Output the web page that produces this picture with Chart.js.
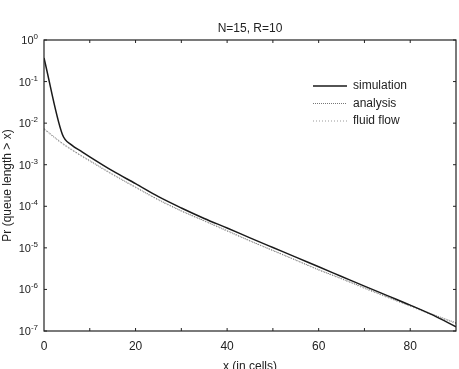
<!DOCTYPE html>
<html>
<head>
<meta charset="utf-8">
<script src="https://cdn.jsdelivr.net/npm/chart.js@4"></script>
<style>
  html, body { margin: 0; padding: 0; background: #fff; }
  #wrap { width: 459px; height: 369px; }
</style>
</head>
<body>
<div id="wrap"><canvas id="queueChart" width="459" height="369"></canvas></div>
<script>
// queue length tail probabilities
const xCells = [0, 4, 6, 8, 10, 15, 20, 25, 30, 35, 40, 45, 50, 55, 60, 65, 70, 75, 80, 85, 90];
const simulation = [3.7e-1, 5.4e-3, 3.0e-3, 2.15e-3, 1.55e-3, 7.1e-4, 3.5e-4, 1.7e-4, 9.1e-5, 5.1e-5, 3.0e-5, 1.74e-5, 1.02e-5, 6.0e-6, 3.5e-6, 2.05e-6, 1.2e-6, 7.1e-7, 4.2e-7, 2.4e-7, 1.26e-7];
const analysis = [7.4e-3, 3.3e-3, 2.35e-3, 1.7e-3, 1.26e-3, 5.9e-4, 2.9e-4, 1.45e-4, 7.8e-5, 4.5e-5, 2.6e-5, 1.48e-5, 8.7e-6, 5.1e-6, 3.0e-6, 1.82e-6, 1.1e-6, 6.6e-7, 4.1e-7, 2.5e-7, 1.58e-7];
const fluidFlow = [7.0e-3, 3.15e-3, 2.25e-3, 1.63e-3, 1.2e-3, 5.7e-4, 2.8e-4, 1.4e-4, 7.6e-5, 4.4e-5, 2.5e-5, 1.45e-5, 8.5e-6, 5.0e-6, 2.9e-6, 1.78e-6, 1.05e-6, 6.4e-7, 3.9e-7, 2.4e-7, 1.5e-7];
const yTicks = [1, 1e-1, 1e-2, 1e-3, 1e-4, 1e-5, 1e-6, 1e-7];
const xTicks = [0, 20, 40, 60, 80];
const seriesNames = ['simulation', 'analysis', 'fluid flow'];
const chartTitle = 'N=15, R=10';

const FONT = 'Liberation Sans, Arial, sans-serif';

// box, inward ticks, title, power-of-ten labels and legend
const framePlugin = {
    id: 'frame',
    afterDraw(chart) {
        const { ctx, chartArea: a, scales } = chart;
        ctx.save();
        ctx.strokeStyle = '#222';
        ctx.lineWidth = 1.2;
        ctx.strokeRect(a.left, a.top, a.right - a.left, a.bottom - a.top);
        ctx.lineWidth = 1;
        for (let v = 10; v < 90; v += 10) {
            const px = scales.x.getPixelForValue(v);
            ctx.beginPath();
            ctx.moveTo(px, a.bottom); ctx.lineTo(px, a.bottom - 3);
            ctx.moveTo(px, a.top); ctx.lineTo(px, a.top + 3);
            ctx.stroke();
        }
        ctx.fillStyle = '#222';
        yTicks.forEach(v => {
            const py = scales.y.getPixelForValue(v);
            ctx.beginPath();
            ctx.moveTo(a.left, py); ctx.lineTo(a.left + 3, py);
            ctx.moveTo(a.right, py); ctx.lineTo(a.right - 3, py);
            ctx.stroke();
            // 10^e label
            const e = String(Math.round(Math.log10(v)));
            ctx.font = '8px ' + FONT;
            ctx.textAlign = 'left';
            ctx.textBaseline = 'alphabetic';
            const ew = ctx.measureText(e).width;
            const right = a.left - 6;
            ctx.fillText(e, right - ew, py - 1);
            ctx.font = '11px ' + FONT;
            ctx.textAlign = 'right';
            ctx.fillText('10', right - ew, py + 4);
        });
        // title
        ctx.font = '12px ' + FONT;
        ctx.textAlign = 'center';
        ctx.textBaseline = 'middle';
        ctx.fillText(chartTitle, (a.left + a.right) / 2, 29);
        // legend
        ctx.textAlign = 'left';
        chart.data.datasets.forEach((ds, i) => {
            const y = 86 + i * 17.5;
            ctx.strokeStyle = ds.borderColor;
            ctx.lineWidth = ds.borderWidth;
            ctx.setLineDash(ds.borderDash || []);
            ctx.beginPath();
            ctx.moveTo(313, y); ctx.lineTo(347, y);
            ctx.stroke();
            ctx.setLineDash([]);
            ctx.fillText(ds.label, 353, y);
        });
        ctx.restore();
    }
};

const mk = (arr) => xCells.map((x, i) => ({ x: x, y: arr[i] }));

new Chart(document.getElementById('queueChart'), {
    type: 'line',
    data: {
        datasets: [{
            label: seriesNames[0],
            data: mk(simulation),
            borderColor: '#1a1a1a',
            borderWidth: 1.5,
            cubicInterpolationMode: 'monotone',
            pointRadius: 0
        }, {
            label: seriesNames[1],
            data: mk(analysis),
            borderColor: '#777',
            borderWidth: 1,
            borderDash: [1, 1],
            cubicInterpolationMode: 'monotone',
            pointRadius: 0
        }, {
            label: seriesNames[2],
            data: mk(fluidFlow),
            borderColor: '#999',
            borderWidth: 1,
            borderDash: [1, 2],
            cubicInterpolationMode: 'monotone',
            pointRadius: 0
        }]
    },
    options: {
        responsive: false,
        animation: false,
        layout: { padding: { left: 0, right: 3, top: 40, bottom: 0 } },
        plugins: {
            legend: { display: false },
            tooltip: { enabled: false },
            title: { display: false }
        },
        scales: {
            x: {
                type: 'linear',
                min: 0,
                max: 90,
                afterBuildTicks: (s) => { s.ticks = xTicks.map(v => ({ value: v })); },
                afterFit: (s) => { s.height = 38; },
                grid: { display: false, drawTicks: false },
                border: { display: false },
                ticks: { color: '#222', padding: 8, maxRotation: 0, font: { family: FONT, size: 12 } },
                title: {
                    display: true,
                    text: 'x (in cells)',
                    color: '#222',
                    font: { family: FONT, size: 12 },
                    padding: { top: 12, bottom: -5 }
                }
            },
            y: {
                type: 'logarithmic',
                min: 1e-7,
                max: 1,
                afterBuildTicks: (s) => { s.ticks = yTicks.map(v => ({ value: v })); },
                afterFit: (s) => { s.width = 44; },
                grid: { display: false, drawTicks: false },
                border: { display: false },
                ticks: {
                    color: '#222',
                    padding: 6,
                    font: { family: FONT, size: 10 },
                    callback: () => ''
                },
                title: {
                    display: true,
                    text: 'Pr (queue length > x)',
                    color: '#222',
                    font: { family: FONT, size: 12 },
                    padding: { top: 0, bottom: 0 }
                }
            }
        }
    },
    plugins: [framePlugin]
});
</script>
</body>
</html>
